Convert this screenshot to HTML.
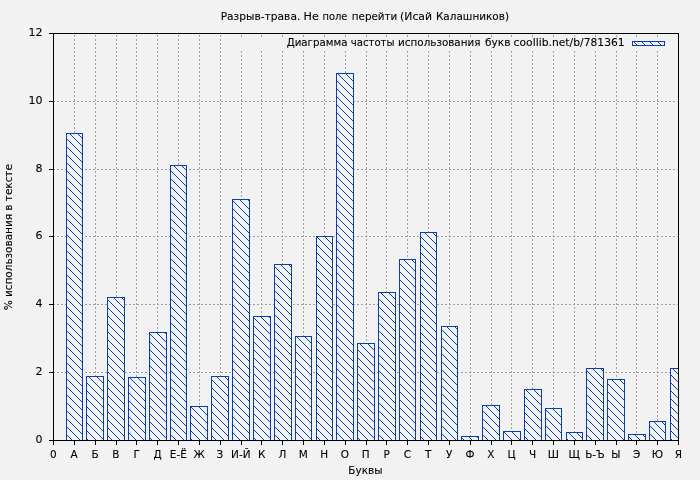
<!DOCTYPE html>
<html lang="ru"><head><meta charset="utf-8"><title>Разрыв-трава. Не поле перейти (Исай Калашников)</title>
<style>html,body{margin:0;padding:0;background:#f2f2f2;overflow:hidden}svg{display:block}text{font-family:"DejaVu Sans","Liberation Sans",sans-serif;font-size:11px;fill:#000;stroke:#000;stroke-width:0.1px}</style></head><body>
<svg width="700" height="480" viewBox="0 0 700 480">
<defs><pattern id="h" width="8" height="8" patternUnits="userSpaceOnUse"><rect width="8" height="8" fill="#f2f2f2"/><path d="M-1,-1 L9,9 M-1,7 L1,9 M7,-1 L9,1" stroke="#0a3fb0" stroke-width="1" fill="none"/></pattern></defs>
<rect width="700" height="480" fill="#f2f2f2"/>
<g stroke="#a0a0a0" stroke-width="1" stroke-dasharray="2 2" shape-rendering="crispEdges">
<line x1="74.5" y1="34" x2="74.5" y2="440" stroke-dashoffset="3"/>
<line x1="95.5" y1="34" x2="95.5" y2="440" stroke-dashoffset="3"/>
<line x1="116.5" y1="34" x2="116.5" y2="440" stroke-dashoffset="3"/>
<line x1="136.5" y1="34" x2="136.5" y2="440" stroke-dashoffset="3"/>
<line x1="157.5" y1="34" x2="157.5" y2="440" stroke-dashoffset="3"/>
<line x1="178.5" y1="34" x2="178.5" y2="440" stroke-dashoffset="3"/>
<line x1="199.5" y1="34" x2="199.5" y2="440" stroke-dashoffset="3"/>
<line x1="220.5" y1="34" x2="220.5" y2="440" stroke-dashoffset="3"/>
<line x1="241.5" y1="34" x2="241.5" y2="440" stroke-dashoffset="3"/>
<line x1="261.5" y1="34" x2="261.5" y2="440" stroke-dashoffset="3"/>
<line x1="282.5" y1="34" x2="282.5" y2="440" stroke-dashoffset="3"/>
<line x1="303.5" y1="34" x2="303.5" y2="440" stroke-dashoffset="3"/>
<line x1="324.5" y1="34" x2="324.5" y2="440" stroke-dashoffset="3"/>
<line x1="345.5" y1="34" x2="345.5" y2="440" stroke-dashoffset="3"/>
<line x1="366.5" y1="34" x2="366.5" y2="440" stroke-dashoffset="3"/>
<line x1="386.5" y1="34" x2="386.5" y2="440" stroke-dashoffset="3"/>
<line x1="407.5" y1="34" x2="407.5" y2="440" stroke-dashoffset="3"/>
<line x1="428.5" y1="34" x2="428.5" y2="440" stroke-dashoffset="3"/>
<line x1="449.5" y1="34" x2="449.5" y2="440" stroke-dashoffset="3"/>
<line x1="470.5" y1="34" x2="470.5" y2="440" stroke-dashoffset="3"/>
<line x1="491.5" y1="34" x2="491.5" y2="440" stroke-dashoffset="3"/>
<line x1="511.5" y1="34" x2="511.5" y2="440" stroke-dashoffset="3"/>
<line x1="532.5" y1="34" x2="532.5" y2="440" stroke-dashoffset="3"/>
<line x1="553.5" y1="34" x2="553.5" y2="440" stroke-dashoffset="3"/>
<line x1="574.5" y1="34" x2="574.5" y2="440" stroke-dashoffset="3"/>
<line x1="595.5" y1="34" x2="595.5" y2="440" stroke-dashoffset="3"/>
<line x1="616.5" y1="34" x2="616.5" y2="440" stroke-dashoffset="3"/>
<line x1="636.5" y1="34" x2="636.5" y2="440" stroke-dashoffset="3"/>
<line x1="657.5" y1="34" x2="657.5" y2="440" stroke-dashoffset="3"/>
<line x1="54" y1="372.5" x2="678" y2="372.5" stroke-dashoffset="1"/>
<line x1="54" y1="304.5" x2="678" y2="304.5" stroke-dashoffset="1"/>
<line x1="54" y1="236.5" x2="678" y2="236.5" stroke-dashoffset="1"/>
<line x1="54" y1="169.5" x2="678" y2="169.5" stroke-dashoffset="1"/>
<line x1="54" y1="101.5" x2="678" y2="101.5" stroke-dashoffset="1"/>
</g>
<rect x="230" y="37" width="440" height="13" fill="#f2f2f2"/>
<g fill="url(#h)" stroke="#0a3fb0" stroke-width="1" shape-rendering="crispEdges">
<rect x="66.5" y="133.5" width="16" height="307"/>
<rect x="86.5" y="376.5" width="17" height="64"/>
<rect x="107.5" y="297.5" width="17" height="143"/>
<rect x="128.5" y="377.5" width="17" height="63"/>
<rect x="149.5" y="332.5" width="17" height="108"/>
<rect x="170.5" y="165.5" width="16" height="275"/>
<rect x="190.5" y="406.5" width="17" height="34"/>
<rect x="211.5" y="376.5" width="17" height="64"/>
<rect x="232.5" y="199.5" width="17" height="241"/>
<rect x="253.5" y="316.5" width="17" height="124"/>
<rect x="274.5" y="264.5" width="17" height="176"/>
<rect x="295.5" y="336.5" width="16" height="104"/>
<rect x="316.5" y="236.5" width="16" height="204"/>
<rect x="336.5" y="73.5" width="17" height="367"/>
<rect x="357.5" y="343.5" width="17" height="97"/>
<rect x="378.5" y="292.5" width="17" height="148"/>
<rect x="399.5" y="259.5" width="16" height="181"/>
<rect x="420.5" y="232.5" width="16" height="208"/>
<rect x="441.5" y="326.5" width="16" height="114"/>
<rect x="461.5" y="436.5" width="17" height="4"/>
<rect x="482.5" y="405.5" width="17" height="35"/>
<rect x="503.5" y="431.5" width="17" height="9"/>
<rect x="524.5" y="389.5" width="17" height="51"/>
<rect x="545.5" y="408.5" width="16" height="32"/>
<rect x="566.5" y="432.5" width="16" height="8"/>
<rect x="586.5" y="368.5" width="17" height="72"/>
<rect x="607.5" y="379.5" width="17" height="61"/>
<rect x="628.5" y="434.5" width="17" height="6"/>
<rect x="649.5" y="421.5" width="16" height="19"/>
<rect x="670.5" y="368.5" width="8" height="72"/>
<rect x="632.5" y="41.5" width="32" height="4"/>
</g>
<g stroke="#000" stroke-width="1" fill="none" shape-rendering="crispEdges">
<rect x="53.5" y="33.5" width="625" height="407"/>
<line x1="53.5" y1="441" x2="53.5" y2="445"/>
<line x1="74.5" y1="441" x2="74.5" y2="445"/>
<line x1="95.5" y1="441" x2="95.5" y2="445"/>
<line x1="116.5" y1="441" x2="116.5" y2="445"/>
<line x1="136.5" y1="441" x2="136.5" y2="445"/>
<line x1="157.5" y1="441" x2="157.5" y2="445"/>
<line x1="178.5" y1="441" x2="178.5" y2="445"/>
<line x1="199.5" y1="441" x2="199.5" y2="445"/>
<line x1="220.5" y1="441" x2="220.5" y2="445"/>
<line x1="241.5" y1="441" x2="241.5" y2="445"/>
<line x1="261.5" y1="441" x2="261.5" y2="445"/>
<line x1="282.5" y1="441" x2="282.5" y2="445"/>
<line x1="303.5" y1="441" x2="303.5" y2="445"/>
<line x1="324.5" y1="441" x2="324.5" y2="445"/>
<line x1="345.5" y1="441" x2="345.5" y2="445"/>
<line x1="366.5" y1="441" x2="366.5" y2="445"/>
<line x1="386.5" y1="441" x2="386.5" y2="445"/>
<line x1="407.5" y1="441" x2="407.5" y2="445"/>
<line x1="428.5" y1="441" x2="428.5" y2="445"/>
<line x1="449.5" y1="441" x2="449.5" y2="445"/>
<line x1="470.5" y1="441" x2="470.5" y2="445"/>
<line x1="491.5" y1="441" x2="491.5" y2="445"/>
<line x1="511.5" y1="441" x2="511.5" y2="445"/>
<line x1="532.5" y1="441" x2="532.5" y2="445"/>
<line x1="553.5" y1="441" x2="553.5" y2="445"/>
<line x1="574.5" y1="441" x2="574.5" y2="445"/>
<line x1="595.5" y1="441" x2="595.5" y2="445"/>
<line x1="616.5" y1="441" x2="616.5" y2="445"/>
<line x1="636.5" y1="441" x2="636.5" y2="445"/>
<line x1="657.5" y1="441" x2="657.5" y2="445"/>
<line x1="678.5" y1="441" x2="678.5" y2="445"/>
<line x1="49" y1="440.5" x2="53" y2="440.5"/>
<line x1="49" y1="372.5" x2="53" y2="372.5"/>
<line x1="49" y1="304.5" x2="53" y2="304.5"/>
<line x1="49" y1="236.5" x2="53" y2="236.5"/>
<line x1="49" y1="169.5" x2="53" y2="169.5"/>
<line x1="49" y1="101.5" x2="53" y2="101.5"/>
<line x1="49" y1="33.5" x2="53" y2="33.5"/>
</g>
<g id="title"><text transform="translate(220.63,20.00) scale(0.970,1)">Разрыв-трава.</text>
<text transform="translate(303.58,20.00) scale(1.015,1)">Не</text>
<text transform="translate(322.40,20.00) scale(0.904,1)">поле</text>
<text transform="translate(351.76,20.00) scale(0.942,1)">перейти</text>
<text transform="translate(400.11,20.00) scale(0.984,1)">(Исай</text>
<text transform="translate(435.95,20.00) scale(0.951,1)">Калашников)</text></g>
<g id="key"><text transform="translate(286.63,46.00) scale(0.934,1)">Диаграмма</text>
<text transform="translate(350.76,46.00) scale(0.921,1)">частоты</text>
<text transform="translate(398.06,46.00) scale(0.944,1)">использования</text>
<text transform="translate(485.02,46.00) scale(0.960,1)">букв</text>
<text transform="translate(513.61,46.00) scale(0.979,1)">coollib.net/b/781361</text></g>
<text transform="translate(365.40,474.00) scale(0.952,1)" text-anchor="middle" id="xl">Буквы</text>
<text transform="translate(12.30,237.20) rotate(-90) scale(0.952,1)" text-anchor="middle" id="yl">% использования в тексте</text>
<text transform="translate(53.30,458.00) scale(0.952,1)" text-anchor="middle">0</text>
<text transform="translate(74.13,458.00) scale(0.952,1)" text-anchor="middle">А</text>
<text transform="translate(94.97,458.00) scale(0.952,1)" text-anchor="middle">Б</text>
<text transform="translate(115.80,458.00) scale(0.952,1)" text-anchor="middle">В</text>
<text transform="translate(136.63,458.00) scale(0.952,1)" text-anchor="middle">Г</text>
<text transform="translate(157.47,458.00) scale(0.952,1)" text-anchor="middle">Д</text>
<text transform="translate(178.30,458.00) scale(0.952,1)" text-anchor="middle">Е-Ё</text>
<text transform="translate(199.13,458.00) scale(0.952,1)" text-anchor="middle">Ж</text>
<text transform="translate(219.97,458.00) scale(0.952,1)" text-anchor="middle">З</text>
<text transform="translate(240.80,458.00) scale(0.952,1)" text-anchor="middle">И-Й</text>
<text transform="translate(261.63,458.00) scale(0.952,1)" text-anchor="middle">К</text>
<text transform="translate(282.47,458.00) scale(0.952,1)" text-anchor="middle">Л</text>
<text transform="translate(303.30,458.00) scale(0.952,1)" text-anchor="middle">М</text>
<text transform="translate(324.13,458.00) scale(0.952,1)" text-anchor="middle">Н</text>
<text transform="translate(344.97,458.00) scale(0.952,1)" text-anchor="middle">О</text>
<text transform="translate(365.80,458.00) scale(0.952,1)" text-anchor="middle">П</text>
<text transform="translate(386.63,458.00) scale(0.952,1)" text-anchor="middle">Р</text>
<text transform="translate(407.47,458.00) scale(0.952,1)" text-anchor="middle">С</text>
<text transform="translate(428.30,458.00) scale(0.952,1)" text-anchor="middle">Т</text>
<text transform="translate(449.13,458.00) scale(0.952,1)" text-anchor="middle">У</text>
<text transform="translate(469.97,458.00) scale(0.952,1)" text-anchor="middle">Ф</text>
<text transform="translate(490.80,458.00) scale(0.952,1)" text-anchor="middle">Х</text>
<text transform="translate(511.63,458.00) scale(0.952,1)" text-anchor="middle">Ц</text>
<text transform="translate(532.47,458.00) scale(0.952,1)" text-anchor="middle">Ч</text>
<text transform="translate(553.30,458.00) scale(0.952,1)" text-anchor="middle">Ш</text>
<text transform="translate(574.13,458.00) scale(0.952,1)" text-anchor="middle">Щ</text>
<text transform="translate(594.97,458.00) scale(0.952,1)" text-anchor="middle">Ь-Ъ</text>
<text transform="translate(615.80,458.00) scale(0.952,1)" text-anchor="middle">Ы</text>
<text transform="translate(636.63,458.00) scale(0.952,1)" text-anchor="middle">Э</text>
<text transform="translate(657.47,458.00) scale(0.952,1)" text-anchor="middle">Ю</text>
<text transform="translate(678.30,458.00) scale(0.952,1)" text-anchor="middle">Я</text>
<text transform="translate(42.60,443.00) scale(1.000,1)" text-anchor="end">0</text>
<text transform="translate(42.60,375.00) scale(1.000,1)" text-anchor="end">2</text>
<text transform="translate(42.60,307.00) scale(1.000,1)" text-anchor="end">4</text>
<text transform="translate(42.60,239.00) scale(1.000,1)" text-anchor="end">6</text>
<text transform="translate(42.60,172.00) scale(1.000,1)" text-anchor="end">8</text>
<text transform="translate(42.60,104.00) scale(1.000,1)" text-anchor="end">10</text>
<text transform="translate(42.60,36.00) scale(1.000,1)" text-anchor="end">12</text>
</svg></body></html>
